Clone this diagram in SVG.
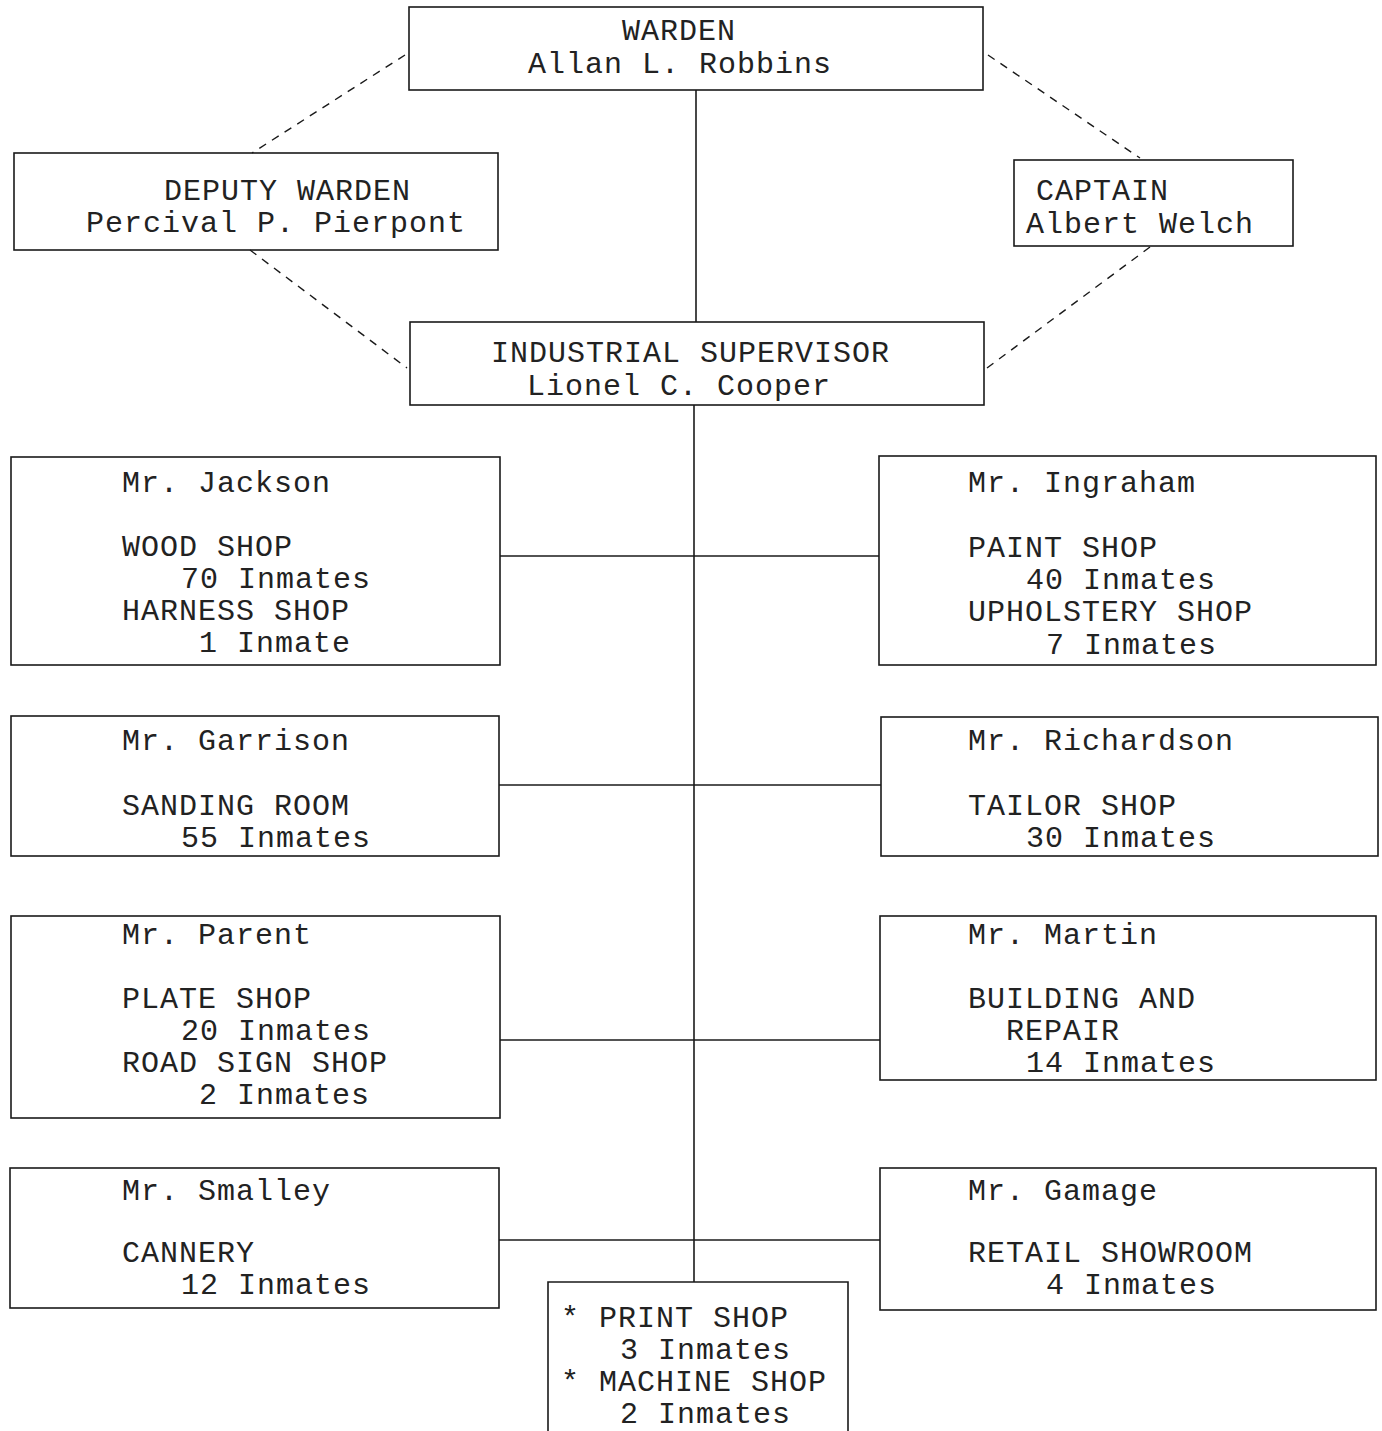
<svg xmlns="http://www.w3.org/2000/svg" width="1382" height="1431" viewBox="0 0 1382 1431">
<style>
.box{fill:none;stroke:#1a1a1a;stroke-width:1.6}
.ln{fill:none;stroke:#1a1a1a;stroke-width:1.6}
.dash{fill:none;stroke:#1a1a1a;stroke-width:1.4;stroke-dasharray:8 7}
text{font-family:"Liberation Mono","DejaVu Sans Mono",monospace;font-size:30px;letter-spacing:1px;fill:#222222}
</style>
<rect width="1382" height="1431" fill="#ffffff"/>
<g id="connectors">
<line class="ln" x1="696" y1="90" x2="696" y2="322"/>
<line class="ln" x1="694" y1="405" x2="694" y2="1282"/>
<line class="ln" x1="500" y1="556" x2="879" y2="556"/>
<line class="ln" x1="499" y1="785" x2="881" y2="785"/>
<line class="ln" x1="500" y1="1040" x2="880" y2="1040"/>
<line class="ln" x1="499" y1="1240" x2="880" y2="1240"/>
<line class="dash" x1="405" y1="55" x2="252" y2="153"/>
<line class="dash" x1="988" y1="55" x2="1140" y2="158"/>
<line class="dash" x1="250" y1="250" x2="407" y2="368"/>
<line class="dash" x1="1150" y1="247" x2="987" y2="368"/>
</g>
<g id="warden">
<rect class="box" x="409" y="7" width="574" height="83"/>
<text x="622" y="40">WARDEN</text>
<text x="528" y="73">Allan L. Robbins</text>
</g>
<g id="deputy">
<rect class="box" x="14" y="153" width="484" height="97"/>
<text x="164" y="200">DEPUTY WARDEN</text>
<text x="86" y="232">Percival P. Pierpont</text>
</g>
<g id="captain">
<rect class="box" x="1014" y="160" width="279" height="86"/>
<text x="1036" y="200">CAPTAIN</text>
<text x="1026" y="233">Albert Welch</text>
</g>
<g id="supervisor">
<rect class="box" x="410" y="322" width="574" height="83"/>
<text x="491" y="362">INDUSTRIAL SUPERVISOR</text>
<text x="527" y="395">Lionel C. Cooper</text>
</g>
<g id="jackson">
<rect class="box" x="11" y="457" width="489" height="208"/>
<text x="122" y="492">Mr. Jackson</text>
<text x="122" y="556">WOOD SHOP</text>
<text x="181" y="588">70 Inmates</text>
<text x="122" y="620">HARNESS SHOP</text>
<text x="199" y="652">1 Inmate</text>
</g>
<g id="ingraham">
<rect class="box" x="879" y="456" width="497" height="209"/>
<text x="968" y="492">Mr. Ingraham</text>
<text x="968" y="557">PAINT SHOP</text>
<text x="1026" y="589">40 Inmates</text>
<text x="968" y="621">UPHOLSTERY SHOP</text>
<text x="1046" y="654">7 Inmates</text>
</g>
<g id="garrison">
<rect class="box" x="11" y="716" width="488" height="140"/>
<text x="122" y="750">Mr. Garrison</text>
<text x="122" y="815">SANDING ROOM</text>
<text x="181" y="847">55 Inmates</text>
</g>
<g id="richardson">
<rect class="box" x="881" y="717" width="497" height="139"/>
<text x="968" y="750">Mr. Richardson</text>
<text x="968" y="815">TAILOR SHOP</text>
<text x="1026" y="847">30 Inmates</text>
</g>
<g id="parent">
<rect class="box" x="11" y="916" width="489" height="202"/>
<text x="122" y="944">Mr. Parent</text>
<text x="122" y="1008">PLATE SHOP</text>
<text x="181" y="1040">20 Inmates</text>
<text x="122" y="1072">ROAD SIGN SHOP</text>
<text x="199" y="1104">2 Inmates</text>
</g>
<g id="martin">
<rect class="box" x="880" y="916" width="496" height="164"/>
<text x="968" y="944">Mr. Martin</text>
<text x="968" y="1008">BUILDING AND</text>
<text x="1006" y="1040">REPAIR</text>
<text x="1026" y="1072">14 Inmates</text>
</g>
<g id="smalley">
<rect class="box" x="10" y="1168" width="489" height="140"/>
<text x="122" y="1200">Mr. Smalley</text>
<text x="122" y="1262">CANNERY</text>
<text x="181" y="1294">12 Inmates</text>
</g>
<g id="gamage">
<rect class="box" x="880" y="1168" width="496" height="142"/>
<text x="968" y="1200">Mr. Gamage</text>
<text x="968" y="1262">RETAIL SHOWROOM</text>
<text x="1046" y="1294">4 Inmates</text>
</g>
<g id="print-machine">
<path class="box" d="M548 1431 V1282 H848 V1431"/>
<text x="561" y="1327">* PRINT SHOP</text>
<text x="620" y="1359">3 Inmates</text>
<text x="561" y="1391">* MACHINE SHOP</text>
<text x="620" y="1423">2 Inmates</text>
</g>
</svg>
